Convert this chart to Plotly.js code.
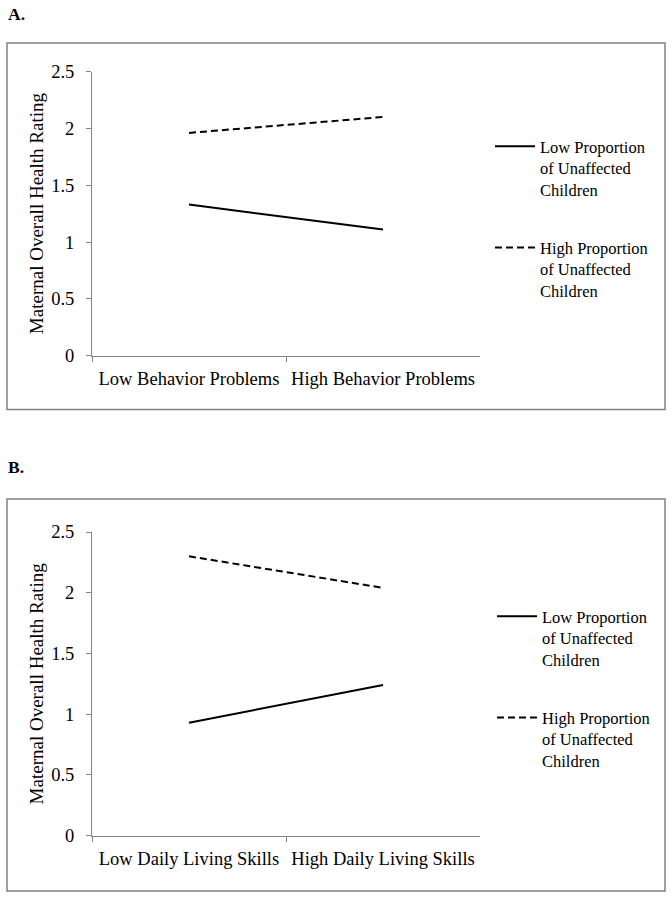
<!DOCTYPE html>
<html>
<head>
<meta charset="utf-8">
<script src="https://cdn.plot.ly/plotly-3.0.1.min.js"></script>
<style>html,body{margin:0;padding:0;background:#fff;}#chart{width:672px;height:900px;}</style>
</head>
<body>
<div id="chart"></div>
<script>
// ---- data ----
const catsA = ["Low Behavior Problems", "High Behavior Problems"];
const catsB = ["Low Daily Living Skills", "High Daily Living Skills"];
const lowPropA = [1.33, 1.11];
const highPropA = [1.96, 2.10];
const lowPropB = [0.93, 1.24];
const highPropB = [2.30, 2.04];
const seriesNames = ["Low Proportion<br>of Unaffected<br>Children", "High Proportion<br>of Unaffected<br>Children"];
const yTitle = "Maternal Overall Health Rating";
const yTicks = [0, 0.5, 1, 1.5, 2, 2.5];
const yTickText = ["0", "0.5", "1", "1.5", "2", "2.5"];

const W = 672, H = 900;
const px = v => v / W;
const py = v => 1 - v / H;
const FONT = "Liberation Serif, Times New Roman, serif";
const AXC = "#868686";

const traces = [
  {x: catsA, y: lowPropA, name: seriesNames[0], xaxis: "x", yaxis: "y", mode: "lines",
   line: {color: "#000", width: 2}, legend: "legend", legendgroup: "a1"},
  {x: catsA, y: highPropA, name: seriesNames[1], xaxis: "x", yaxis: "y", mode: "lines",
   line: {color: "#000", width: 2, dash: "7px,4px"}, legend: "legend", legendgroup: "a2"},
  {x: catsB, y: lowPropB, name: seriesNames[0], xaxis: "x2", yaxis: "y2", mode: "lines",
   line: {color: "#000", width: 2}, legend: "legend2", legendgroup: "b1"},
  {x: catsB, y: highPropB, name: seriesNames[1], xaxis: "x2", yaxis: "y2", mode: "lines",
   line: {color: "#000", width: 2, dash: "7px,4px"}, legend: "legend2", legendgroup: "b2"}
];

function xax(anchor) {
  return {
    domain: [px(92), px(480)], anchor: anchor, type: "category", range: [-0.5, 1.5],
    showline: true, linecolor: AXC, linewidth: 1, showgrid: false, zeroline: false,
    ticks: "outside", tickson: "boundaries", ticklen: 5, tickcolor: AXC, tickwidth: 1,
    tickfont: {family: FONT, size: 18.5, color: "#000"}, ticklabelstandoff: 6,
    fixedrange: true
  };
}
function yax(top, bottom, anchor) {
  return {
    domain: [py(bottom), py(top)], anchor: anchor, range: [0, 2.5],
    tickvals: yTicks, ticktext: yTickText,
    showline: true, linecolor: AXC, linewidth: 1, showgrid: false, zeroline: false,
    ticks: "outside", ticklen: 5, tickcolor: AXC, tickwidth: 1,
    tickfont: {family: FONT, size: 18.5, color: "#000"}, ticklabelstandoff: 8,
    title: {text: yTitle, font: {family: FONT, size: 19, color: "#000"}, standoff: 2},
    fixedrange: true
  };
}

const layout = {
  width: W, height: H,
  margin: {l: 0, r: 0, t: 0, b: 0, autoexpand: false},
  paper_bgcolor: "#fff", plot_bgcolor: "#fff",
  font: {family: FONT, color: "#000"},
  xaxis: xax("y"),
  yaxis: yax(71.5, 355.7, "x"),
  xaxis2: xax("y2"),
  yaxis2: yax(532, 835.7, "x2"),
  legend: {x: px(490), y: py(129), xanchor: "left", yanchor: "top",
           font: {family: FONT, size: 16.5, color: "#000"}, valign: "top",
           tracegroupgap: 34, bgcolor: "rgba(0,0,0,0)", itemwidth: 40},
  legend2: {x: px(492), y: py(599), xanchor: "left", yanchor: "top",
            font: {family: FONT, size: 16.5, color: "#000"}, valign: "top",
            tracegroupgap: 34, bgcolor: "rgba(0,0,0,0)", itemwidth: 40},
  shapes: [
    {type: "rect", xref: "paper", yref: "paper", x0: px(7), x1: px(665), y0: py(409.5), y1: py(43),
     line: {color: "#808080", width: 1.5}},
    {type: "rect", xref: "paper", yref: "paper", x0: px(7), x1: px(665), y0: py(891), y1: py(499),
     line: {color: "#808080", width: 1.5}}
  ],
  annotations: [
    {text: "<b>A.</b>", xref: "paper", yref: "paper", x: px(6), y: py(14), xanchor: "left", yanchor: "middle",
     showarrow: false, font: {family: FONT, size: 17.5, color: "#000"}},
    {text: "<b>B.</b>", xref: "paper", yref: "paper", x: px(6), y: py(467), xanchor: "left", yanchor: "middle",
     showarrow: false, font: {family: FONT, size: 17.5, color: "#000"}}
  ],
  showlegend: true
};

Plotly.newPlot("chart", traces, layout, {displayModeBar: false, staticPlot: true});
</script>
</body>
</html>
